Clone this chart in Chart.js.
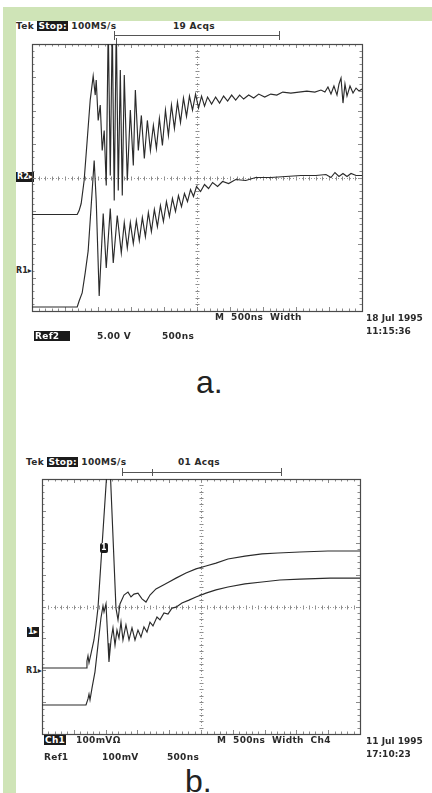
<!DOCTYPE html>
<html>
<head>
<meta charset="utf-8">
<script src="https://cdn.jsdelivr.net/npm/chart.js@4/dist/chart.umd.min.js"></script>
<style>
  html, body { margin: 0; padding: 0; background: #fff; }
  body { width: 432px; height: 793px; position: relative; overflow: hidden;
         font-family: "DejaVu Sans", "Liberation Sans", sans-serif; color: #222; }
  .band { position: absolute; background: #cfe4b7; }
  canvas { position: absolute; }
  .t { position: absolute; white-space: nowrap; font-size: 9px; font-weight: bold;
       line-height: 10px; height: 10px; letter-spacing: 0.3px; color: #2a2a2a; }
  .inv { background: #1b1b1b; color: #fff; padding: 0 1px; }
  .big { position: absolute; font-family: "Liberation Sans", Arial, sans-serif;
         font-size: 32px; line-height: 32px; color: #222; }
  .ln { position: absolute; background: #555; }
</style>
</head>
<body>
<div class="band" style="left:3px; top:7px; width:429px; height:14px;"></div>
<div class="band" style="left:3px; top:7px; width:13px; height:786px;"></div>

<!-- screen a -->
<div class="t" style="left:16px; top:21px;">Tek <span class="inv">Stop:</span> 100MS/s</div>
<div class="t" style="left:173px; top:21px;">19 Acqs</div>
<div class="ln" style="left:114px; top:35px; width:165px; height:1px;"></div>
<div class="ln" style="left:114px; top:31px; width:1px; height:9px;"></div>
<div class="ln" style="left:279px; top:31px; width:1px; height:9px;"></div>
<div class="ln" style="left:116px; top:38px; width:1px; height:6px;"></div>
<div class="t inv" style="left:16px; top:172px; font-size:8px; letter-spacing:0;">R2▸</div>
<div class="t" style="left:16px; top:266px; font-size:8px; letter-spacing:0;">R1▸</div>
<canvas id="scopeA" width="338" height="275" style="left:28px; top:40px;"></canvas>
<div class="t" style="left:215px; top:312px;">M&nbsp;&nbsp;500ns&nbsp;&nbsp;Width</div>
<div class="t" style="left:366px; top:313px; letter-spacing:0;">18 Jul 1995</div>
<div class="t" style="left:366px; top:326px; letter-spacing:0;">11:15:36</div>
<div class="t inv" style="left:34px; top:331px; width:34px;">Ref2</div>
<div class="t" style="left:97px; top:331px;">5.00 V</div>
<div class="t" style="left:162px; top:331px;">500ns</div>
<div class="big" style="left:196px; top:366px;">a.</div>

<!-- screen b -->
<div class="t" style="left:26px; top:457px;">Tek <span class="inv">Stop:</span> 100MS/s</div>
<div class="t" style="left:178px; top:457px;">01 Acqs</div>
<div class="ln" style="left:122px; top:472px; width:159px; height:1px;"></div>
<div class="ln" style="left:122px; top:468px; width:1px; height:8px;"></div>
<div class="ln" style="left:281px; top:468px; width:1px; height:8px;"></div>
<div class="ln" style="left:152px; top:469px; width:1px; height:7px;"></div>
<div class="t inv" style="left:27px; top:627px; font-size:8px; letter-spacing:0;">1▸</div>
<div class="t" style="left:26px; top:666px; font-size:8px; letter-spacing:0;">R1▸</div>
<canvas id="scopeB" width="326" height="263" style="left:38px; top:475px;"></canvas>
<div class="t inv" style="left:100px; top:543px; font-size:8px; border-radius:2px;">1</div>
<div class="t inv" style="left:44px; top:735px;">Ch1</div>
<div class="t" style="left:76px; top:735px;">100mVΩ</div>
<div class="t" style="left:217px; top:735px;">M&nbsp;&nbsp;500ns&nbsp;&nbsp;Width&nbsp;&nbsp;Ch4</div>
<div class="t" style="left:366px; top:736px; letter-spacing:0;">11 Jul 1995</div>
<div class="t" style="left:366px; top:749px; letter-spacing:0;">17:10:23</div>
<div class="t" style="left:44px; top:752px;">Ref1</div>
<div class="t" style="left:102px; top:752px;">100mV</div>
<div class="t" style="left:167px; top:752px;">500ns</div>
<div class="big" style="left:185px; top:765px;">b.</div>

<script>
// Time in ns (500 ns/div, 10 divisions), amplitude in screen divisions (±4).

// Screen a, Ref2 (upper trace)
const aRef2Time = [0, 685, 714, 745, 790, 836, 882, 927, 958, 973, 1003, 1034, 1064, 1094, 1125, 1155,
  1186, 1216, 1246, 1277, 1307, 1338, 1368, 1398, 1444, 1490, 1535, 1566, 1611, 1657, 1702, 1748,
  1794, 1839, 1885, 1930, 1976, 2022, 2067, 2113, 2158, 2204, 2250, 2295, 2341, 2386, 2432, 2478,
  2523, 2569, 2614, 2660, 2721, 2782, 2842, 2903, 2964, 3025, 3086, 3146, 3207, 3283, 3359, 3435,
  3526, 3618, 3709, 3800, 3922, 4043, 4165, 4286, 4378, 4438, 4484, 4530, 4575, 4621, 4651, 4682,
  4712, 4742, 4773, 4818, 4864, 4910, 4955, 5000];
const aRef2Div = [-1.11, -1.11, -0.99, -0.78, -0.09, 1.11, 2.32, 3.04, 2.47, 2.92, 1.71, 2.17, 0.81, 1.41, -0.24, 4.6,
  0.06, 4.6, -0.69, 4.6, -0.39, 3.22, -0.54, 3.07, -0.09, 2.02, 0.36, 2.62, 0.81, 1.86, 0.57, 1.71,
  0.81, 1.56, 0.87, 1.77, 0.96, 2.02, 1.26, 2.17, 1.47, 2.26, 1.65, 2.38, 1.83, 2.44, 2.02, 2.50,
  2.08, 2.44, 2.14, 2.41, 2.20, 2.41, 2.23, 2.44, 2.29, 2.47, 2.32, 2.47, 2.35, 2.47, 2.38, 2.50,
  2.41, 2.50, 2.47, 2.56, 2.53, 2.56, 2.59, 2.56, 2.62, 2.56, 2.71, 2.50, 2.74, 2.47, 2.80, 2.98,
  2.23, 2.80, 2.44, 2.74, 2.53, 2.68, 2.59, 2.65];

// Screen a, Ref1 (lower trace)
const aRef1Time = [0, 685, 714, 760, 806, 851, 897, 942, 973, 1018, 1079, 1125, 1186, 1231, 1292, 1353,
  1398, 1444, 1490, 1535, 1581, 1626, 1672, 1718, 1763, 1809, 1854, 1900, 1946, 1991, 2037, 2082,
  2128, 2174, 2219, 2265, 2310, 2356, 2402, 2447, 2493, 2554, 2614, 2675, 2736, 2812, 2888, 2979,
  3086, 3238, 3390, 3618, 3846, 4074, 4302, 4454, 4530, 4590, 4651, 4712, 4773, 4834, 4910, 5000];
const aRef1Div = [-3.88, -3.88, -3.70, -3.46, -2.86, -2.20, -0.84, 0.51, -0.69, -3.55, -1.08, -2.71, -0.93, -2.56, -1.14, -2.26,
  -1.35, -2.11, -1.35, -1.98, -1.29, -1.89, -1.20, -1.77, -1.05, -1.62, -0.96, -1.47, -0.84, -1.32, -0.72, -1.17,
  -0.63, -1.02, -0.54, -0.87, -0.48, -0.72, -0.36, -0.57, -0.27, -0.42, -0.21, -0.33, -0.15, -0.27, -0.12, -0.18,
  -0.06, -0.09, 0.00, 0.00, 0.03, 0.06, 0.06, 0.09, 0.00, 0.15, 0.03, 0.12, 0.03, 0.12, 0.06, 0.06];

// Screen b, Ch1 (upper trace)
const bCh1Time = [0, 692, 707, 723, 739, 770, 817, 849, 880, 1053, 1163, 1195, 1226, 1289, 1352, 1399,
  1446, 1509, 1572, 1635, 1698, 1792, 1902, 1996, 2107, 2264, 2421, 2578, 2736, 2924, 3191, 3459,
  3710, 4056, 4496, 5000];
const bCh1Div = [-1.93, -1.93, -1.71, -1.55, -1.77, -1.49, -1.05, -0.58, -0.05, 5.22, -0.05, -0.42, 0.08, 0.36, 0.45, 0.30,
  0.39, 0.42, 0.24, 0.14, 0.36, 0.55, 0.67, 0.77, 0.89, 1.05, 1.18, 1.27, 1.36, 1.49, 1.58, 1.65,
  1.68, 1.71, 1.74, 1.74];

// Screen b, Ref1 (lower trace)
const bRef1Time = [0, 692, 723, 739, 755, 786, 833, 880, 927, 959, 975, 1006, 1038, 1053, 1085, 1116,
  1148, 1179, 1210, 1242, 1273, 1320, 1368, 1415, 1462, 1509, 1556, 1603, 1651, 1698, 1745, 1808,
  1855, 1918, 1981, 2044, 2107, 2201, 2311, 2421, 2578, 2736, 2924, 3191, 3459, 3741, 4056, 4527, 5000];
const bRef1Div = [-3.09, -3.09, -2.90, -2.75, -2.93, -2.56, -2.05, -1.21, -0.36, 0.02, -0.17, 0.08, -1.15, -1.74, -1.05, -0.67,
  -1.21, -0.74, -0.99, -0.49, -1.05, -0.58, -1.05, -0.67, -1.05, -0.74, -0.96, -0.64, -0.80, -0.49, -0.61, -0.33,
  -0.42, -0.20, -0.24, -0.05, -0.02, 0.11, 0.20, 0.30, 0.42, 0.52, 0.61, 0.71, 0.77, 0.83, 0.86, 0.89, 0.89];

const divisionsX = 10, divisionsY = 8, nsPerDiv = 500;

function points(times, values) {
  return times.map((t, i) => ({ x: t, y: values[i] }));
}

// Oscilloscope graticule: frame, minor ticks on the frame, dotted centre crosshair with ticks.
const graticule = {
  id: 'graticule',
  beforeDatasetsDraw(chart) {
    const { ctx, chartArea: a, scales: { x, y } } = chart;
    ctx.save();
    ctx.strokeStyle = '#8a8a8a';
    ctx.lineWidth = 1;
    const cx = Math.round(x.getPixelForValue(nsPerDiv * divisionsX / 2)) + 0.5;
    const cy = Math.round(y.getPixelForValue(0)) + 0.5;
    // minor ticks (5 per division)
    ctx.beginPath();
    for (let i = 1; i < divisionsX * 5; i++) {
      const px = Math.round(x.getPixelForValue(i * nsPerDiv / 5)) + 0.5;
      const len = (i % 5 === 0) ? 4 : 2.5;
      ctx.moveTo(px, a.top); ctx.lineTo(px, a.top + len);
      ctx.moveTo(px, a.bottom); ctx.lineTo(px, a.bottom - len);
      ctx.moveTo(px, cy - 2); ctx.lineTo(px, cy + 2);
    }
    for (let j = 1; j < divisionsY * 5; j++) {
      const py = Math.round(y.getPixelForValue(-4 + j / 5)) + 0.5;
      const len = (j % 5 === 0) ? 4 : 2.5;
      ctx.moveTo(a.left, py); ctx.lineTo(a.left + len, py);
      ctx.moveTo(a.right, py); ctx.lineTo(a.right - len, py);
      ctx.moveTo(cx - 2, py); ctx.lineTo(cx + 2, py);
    }
    ctx.stroke();
    // dotted centre lines
    ctx.setLineDash([1, 2]);
    ctx.strokeStyle = '#9a9a9a';
    ctx.beginPath();
    ctx.moveTo(a.left, cy); ctx.lineTo(a.right, cy);
    ctx.moveTo(cx, a.top); ctx.lineTo(cx, a.bottom);
    ctx.stroke();
    ctx.setLineDash([]);
    // frame
    ctx.strokeStyle = '#4a4a4a';
    ctx.lineWidth = 1.2;
    ctx.strokeRect(Math.round(a.left) + 0.5, Math.round(a.top) + 0.5,
      Math.round(a.right - a.left), Math.round(a.bottom - a.top));
    ctx.restore();
  }
};

function scope(id, traces) {
  return new Chart(document.getElementById(id), {
    type: 'line',
    data: {
      datasets: traces.map(([t, v]) => ({
        data: points(t, v),
        borderColor: '#2b2b2b',
        borderWidth: 1.15,
        pointRadius: 0,
        tension: 0,
        fill: false
      }))
    },
    options: {
      responsive: false,
      animation: false,
      devicePixelRatio: 1,
      layout: { padding: 4 },
      parsing: false,
      plugins: { legend: { display: false }, tooltip: { enabled: false } },
      scales: {
        x: { type: 'linear', min: 0, max: nsPerDiv * divisionsX, display: false },
        y: { type: 'linear', min: -divisionsY / 2, max: divisionsY / 2, display: false }
      }
    },
    plugins: [graticule]
  });
}

scope('scopeA', [[aRef2Time, aRef2Div], [aRef1Time, aRef1Div]]);
scope('scopeB', [[bCh1Time, bCh1Div], [bRef1Time, bRef1Div]]);
</script>
</body>
</html>
